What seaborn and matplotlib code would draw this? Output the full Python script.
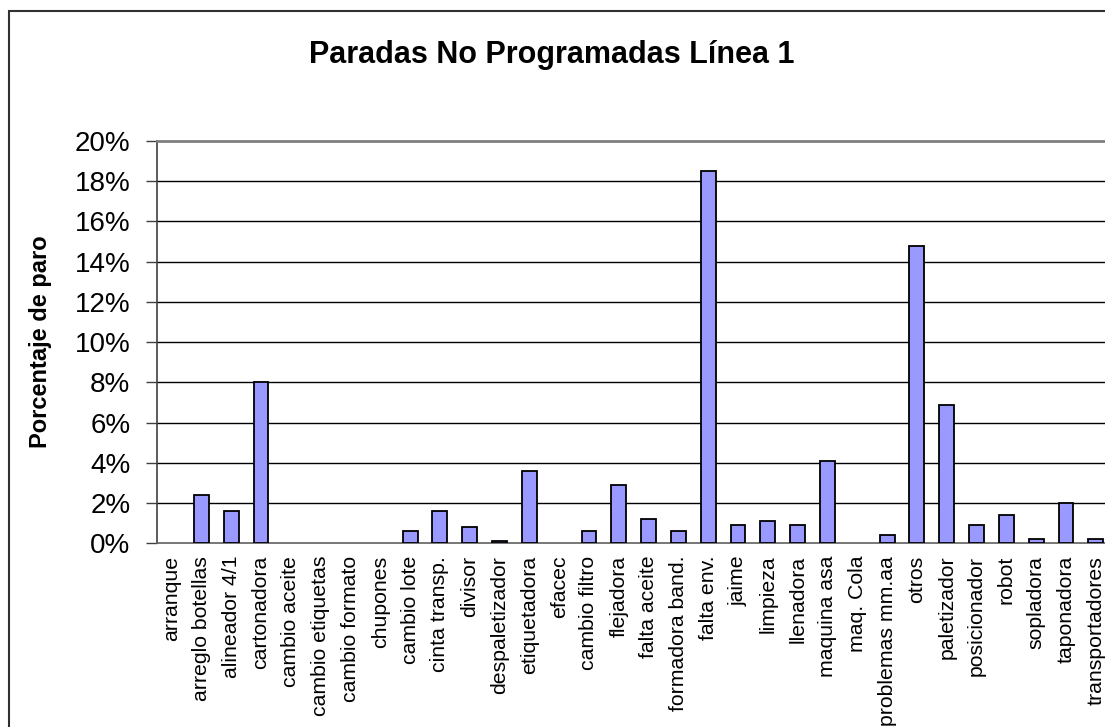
import numpy as np
import pandas as pd
import matplotlib
matplotlib.use("Agg")
import matplotlib.pyplot as plt
from matplotlib.ticker import PercentFormatter, FixedLocator
from matplotlib.patches import Rectangle
import seaborn as sns

categories = ["arranque", "arreglo botellas", "alineador 4/1", "cartonadora",
              "cambio aceite", "cambio etiquetas", "cambio formato", "chupones",
              "cambio lote", "cinta transp.", "divisor", "despaletizador",
              "etiquetadora", "efacec", "cambio filtro", "flejadora",
              "falta aceite", "formadora band.", "falta env.", "jaime",
              "limpieza", "llenadora", "maquina asa", "maq. Cola",
              "problemas mm.aa", "otros", "paletizador", "posicionador",
              "robot", "sopladora", "taponadora", "transportadores"]
values = [0.0, 2.4, 1.6, 8.0,
          0.0, 0.0, 0.0, 0.0,
          0.6, 1.6, 0.8, 0.1,
          3.6, 0.0, 0.6, 2.9,
          1.2, 0.6, 18.5, 0.9,
          1.1, 0.9, 4.1, 0.0,
          0.4, 14.8, 6.9, 0.9,
          1.4, 0.2, 2.0, 0.2]
title = "Paradas No Programadas Línea 1"
ylabel = "Porcentaje de paro"
yticks = [0, 2, 4, 6, 8, 10, 12, 14, 16, 18, 20]

df = pd.DataFrame({"cat": categories, "val": values})

sns.set_style("white")
plt.rcParams['font.family'] = ['Liberation Sans', 'DejaVu Sans']
plt.rcParams['text.color'] = 'black'
plt.rcParams['axes.labelcolor'] = 'black'
plt.rcParams['xtick.labelcolor'] = 'black'
plt.rcParams['ytick.labelcolor'] = 'black'

W, H = 1105, 727
fig = plt.figure(figsize=(W / 100, H / 100), dpi=100)
left, right, bottom, top = 156.7, 1110.7, 543.3, 141.0
ax = fig.add_axes([left / W, 1 - bottom / H, (right - left) / W, (bottom - top) / H])

sns.barplot(data=df, x="cat", y="val", ax=ax, color="#9999FF",
            saturation=1, edgecolor="black", linewidth=1.3, width=0.5, zorder=3)
for p in ax.patches:
    if p.get_height() == 0:
        p.set_linewidth(0)

ax.set_ylim(0, 20)
ax.set_xlim(-0.5, len(categories) - 0.5)
ax.yaxis.set_major_locator(FixedLocator(yticks))
ax.yaxis.set_major_formatter(PercentFormatter(100, decimals=0))
for y in yticks[1:-1]:
    ax.axhline(y, color="black", lw=1.0, zorder=1)

ax.set_xticks(range(len(categories)))
ax.set_xticklabels(categories, rotation=90, fontsize=15.3, va="top", ha="center")
ax.set_xticks(np.arange(-0.5, len(categories), 1), minor=True)
ax.tick_params(axis="x", which="major", length=0, pad=9)
ax.tick_params(axis="x", which="minor", length=6, width=1, color="#606060", direction="out")
ax.tick_params(axis="y", length=8, width=1, color="#404040", direction="out",
               labelsize=20, pad=11, left=True)

ax.set_xlabel("")
ax.set_ylabel(ylabel, fontsize=17, fontweight="bold", labelpad=10)
ax.yaxis.set_label_coords(-(left - 52) / (right - left), 0.5)

ax.spines["right"].set_visible(False)
ax.spines["top"].set_color("#808080")
ax.spines["top"].set_linewidth(2)
ax.spines["left"].set_color("#404040")
ax.spines["left"].set_linewidth(1.2)
ax.spines["bottom"].set_color("#606060")
ax.spines["bottom"].set_linewidth(1.2)

fig.text(552 / W, 1 - 55 / H, title, ha="center", va="center",
         fontsize=22, fontweight="bold", color="black")

fig.patches.append(Rectangle((8.5 / W, -0.1), 1.2, 1 - 11 / H + 0.1,
                             transform=fig.transFigure, fill=False,
                             edgecolor="#303030", linewidth=1.5, clip_on=False))

fig.savefig("out.png", dpi=100)
